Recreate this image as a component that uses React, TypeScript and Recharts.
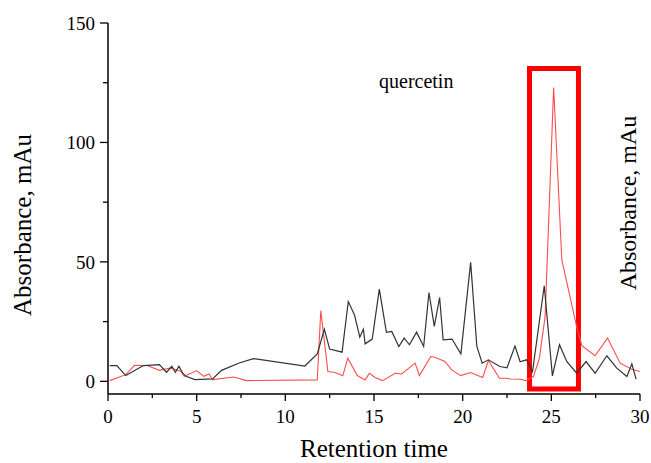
import React from 'react';
import { LineChart, Line, XAxis, YAxis, ReferenceArea } from 'recharts';

// Retention time (min) and absorbance (mAu) — dark trace
const blackTime = [
  0.1, 0.5, 1.0, 2.0, 2.9, 3.3, 3.6, 3.8, 4.0, 4.2, 4.4, 4.9, 5.9, 6.4, 7.4, 8.2,
  11.1, 11.8, 12.2, 12.5, 13.2, 13.55, 13.9, 14.2, 14.4, 14.5, 14.9, 15.3, 15.7, 16.0,
  16.4, 16.7, 17.0, 17.4, 17.8, 18.1, 18.4, 18.7, 18.9, 19.4, 19.9, 20.45, 20.8, 21.1,
  21.45, 22.1, 22.5, 22.95, 23.24, 23.6, 23.94, 24.6, 25.06, 25.46, 25.87, 26.43, 26.96,
  27.47, 28.13, 28.69, 29.26, 29.54, 29.78,
];
const blackAbs = [
  6.6, 6.6, 2.4, 6.6, 7.0, 3.8, 6.3, 3.8, 6.3, 3.5, 2.1, 0.7, 1.0, 4.6, 7.7, 9.5,
  6.4, 11.5, 21.8, 13.5, 12.2, 33.4, 27.8, 18.5, 21.8, 15.7, 17.7, 38.6, 20.5, 20.9,
  14.6, 18.1, 15.3, 20.6, 14.6, 37.2, 23.0, 35.1, 17.4, 17.7, 11.5, 49.8, 14.6, 7.6,
  9.0, 6.2, 5.7, 14.8, 8.2, 9.0, 4.1, 40.0, 2.3, 15.3, 8.3, 3.4, 8.3,
  3.4, 10.7, 5.5, 2.0, 7.3, 0.9,
];

// Retention time (min) and absorbance (mAu) — red trace
const redTime = [
  0.1, 1.0, 1.5, 2.2, 2.9, 3.5, 4.1, 4.3, 5.0, 5.4, 5.7, 5.9, 7.1, 7.8, 11.8, 12.0,
  12.4, 12.8, 13.24, 13.52, 14.06, 14.5, 14.74, 15.06, 15.49, 16.19, 16.56, 17.32, 17.56,
  18.2, 18.44, 19.0, 19.38, 19.89, 20.45, 21.13, 21.45, 22.07, 22.44, 22.7, 23.24, 23.58,
  23.99, 24.33, 24.65, 25.13, 25.59, 26.4, 26.72, 27.47, 28.17, 28.88, 29.54, 30.0,
];
const redAbs = [
  0.3, 2.8, 6.7, 6.6, 4.6, 5.6, 4.2, 2.1, 4.5, 2.1, 3.1, 0.7, 1.8, 0.3, 0.6, 29.6,
  4.1, 3.7, 2.3, 9.7, 2.4, 0.6, 3.4, 1.6, 0.3, 3.4, 3.1, 7.6, 2.4,
  10.4, 10.1, 8.3, 4.8, 2.4, 3.7, 1.6, 8.7, 1.3, 1.3, 1.0, 0.9, 0.3,
  2.0, 9.7, 27.2, 123.0, 50.9, 23.7, 14.9, 10.7, 18.1, 7.6, 5.1, 4.1,
];

const xTickValues = [0, 2.5, 5, 7.5, 10, 12.5, 15, 17.5, 20, 22.5, 25, 27.5, 30];
const xTickLabels = ['0', '', '5', '', '10', '', '15', '', '20', '', '25', '', '30'];
const yTickValues = [0, 25, 50, 75, 100, 125, 150];
const yTickLabels = ['0', '', '50', '', '100', '', '150'];

const xDomain = [0, 30];
const yDomain = [-5.3, 150];

// highlighted quercetin window (time, absorbance)
const highlightTime = [23.77, 26.53];
const highlightAbs = [-3.2, 131];

const xTitle = 'Retention time';
const yTitle = 'Absorbance, mAu';
const peakName = 'quercetin';

const blackData = blackTime.map((t, i) => ({ t, v: blackAbs[i] }));
const redData = redTime.map((t, i) => ({ t, v: redAbs[i] }));

const FONT = '"Liberation Serif", "Times New Roman", serif';

const XTick = (props: any) => {
  const { x, y, payload } = props;
  const idx = xTickValues.indexOf(payload.value);
  const label = idx >= 0 ? xTickLabels[idx] : '';
  const major = label !== '';
  return (
    <g>
      <line x1={x} y1={y} x2={x} y2={y + (major ? 7 : 4)} stroke="#000" strokeWidth={1.3} />
      {major && (
        <text x={x} y={y + 29} textAnchor="middle" fontSize={19} fontFamily={FONT} fill="#000">
          {label}
        </text>
      )}
    </g>
  );
};

const YTick = (props: any) => {
  const { x, y, payload } = props;
  const idx = yTickValues.indexOf(payload.value);
  const label = idx >= 0 ? yTickLabels[idx] : '';
  const major = label !== '';
  return (
    <g>
      <line x1={x} y1={y} x2={x - (major ? 8 : 5)} y2={y} stroke="#000" strokeWidth={1.3} />
      {major && (
        <text x={x - 13} y={y + 7} textAnchor="end" fontSize={19} fontFamily={FONT} fill="#000">
          {label}
        </text>
      )}
    </g>
  );
};

export default function App() {
  return (
    <div style={{ position: 'absolute', left: 0, top: 0, width: 651, height: 463, background: '#fff' }}>
      <LineChart width={651} height={463} margin={{ top: 23, right: 11, bottom: 39, left: 48 }}>
        <XAxis
          type="number"
          dataKey="t"
          domain={xDomain}
          ticks={xTickValues}
          interval={0}
          tickSize={0}
          tickMargin={0}
          tickLine={false}
          tick={<XTick />}
          height={30}
          axisLine={{ stroke: '#000', strokeWidth: 1.5 }}
          allowDataOverflow
        />
        <YAxis
          type="number"
          domain={yDomain}
          ticks={yTickValues}
          interval={0}
          tickSize={0}
          tickMargin={0}
          tickLine={false}
          tick={<YTick />}
          width={60}
          axisLine={{ stroke: '#000', strokeWidth: 1.5 }}
          allowDataOverflow
        />
        <Line
          data={redData}
          dataKey="v"
          type="linear"
          stroke="#ff4d4d"
          strokeWidth={1.1}
          dot={false}
          isAnimationActive={false}
        />
        <Line
          data={blackData}
          dataKey="v"
          type="linear"
          stroke="#333333"
          strokeWidth={1.2}
          dot={false}
          isAnimationActive={false}
        />
        <ReferenceArea
          x1={highlightTime[0]}
          x2={highlightTime[1]}
          y1={highlightAbs[0]}
          y2={highlightAbs[1]}
          fill="none"
          fillOpacity={0}
          stroke="#ff0000"
          strokeWidth={5}
          ifOverflow="visible"
        />
      </LineChart>
      <svg
        width={651}
        height={463}
        style={{ position: 'absolute', left: 0, top: 0, pointerEvents: 'none' }}
      >
        <text
          x={31}
          y={225}
          transform="rotate(-90 31 225)"
          textAnchor="middle"
          fontSize={25}
          fontFamily={FONT}
          fill="#000"
        >
          {yTitle}
        </text>
        <text
          x={636}
          y={203}
          transform="rotate(-90 636 203)"
          textAnchor="middle"
          fontSize={24}
          fontFamily={FONT}
          fill="#000"
        >
          {yTitle}
        </text>
        <text x={374} y={457} textAnchor="middle" fontSize={25} fontFamily={FONT} fill="#000">
          {xTitle}
        </text>
        <text x={379} y={88} textAnchor="start" fontSize={20} fontFamily={FONT} fill="#000">
          {peakName}
        </text>
      </svg>
    </div>
  );
}
